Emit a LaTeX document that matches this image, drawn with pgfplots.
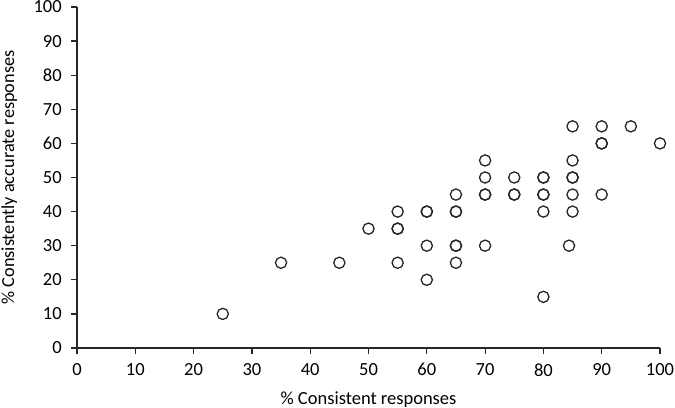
\documentclass[border=0pt]{standalone}
\usepackage{fontspec}
\setmainfont{Carlito}
\usepackage{pgfplots}
\pgfplotsset{compat=1.18}
\begin{document}
\fontsize{18.5bp}{22bp}\selectfont
\begin{tikzpicture}
\path[use as bounding box] (-77bp,-60bp) rectangle ++(675bp,408bp);
\begin{axis}[
  at={(0,0)}, anchor=origin,
  scale only axis,
  width=583bp, height=341bp,
  xmin=0, xmax=100, ymin=0, ymax=100,
  xtick={0,10,...,100}, ytick={0,10,...,100},
  axis x line=bottom, axis y line=left,
  axis line style={-, line width=1.2bp, black!85},
  tick style={line width=1.2bp, black!85},
  tick align=outside,
  major tick length=6bp,
  /pgf/number format/assume math mode=true,
  ticklabel style={font=\fontsize{18.5bp}{22bp}\selectfont},
  xlabel style={font=\fontsize{18.5bp}{22bp}\selectfont, yshift=-3bp},
  ylabel style={font=\fontsize{18.3bp}{22bp}\selectfont, yshift=4bp},
  xlabel={\% Consistent responses},
  ylabel={\% Consistently accurate responses},
  xticklabel style={yshift=-3bp},
  yticklabel style={xshift=-3bp},
  clip=false,
]
\addplot[only marks, mark=o, mark size=5.6bp, mark options={line width=1.3bp, draw=black!85}] coordinates {
(25,10) (35,25) (45,25) (50,35)
(55,40) (55,35) (55,35) (55,25)
(60,40) (60,40) (60,30) (60,20)
(65,45) (65,40) (65,40) (65,30) (65,30) (65,25)
(70,55) (70,50) (70,45) (70,45) (70,30)
(75,50) (75,45) (75,45)
(80,50) (80,50) (80,45) (80,45) (80,40) (80,15)
(84.4,30)
(85,65) (85,55) (85,50) (85,50) (85,45) (85,40)
(90,65) (90,60) (90,60) (90,45)
(95,65) (100,60)
};
\end{axis}
\end{tikzpicture}
\end{document}
